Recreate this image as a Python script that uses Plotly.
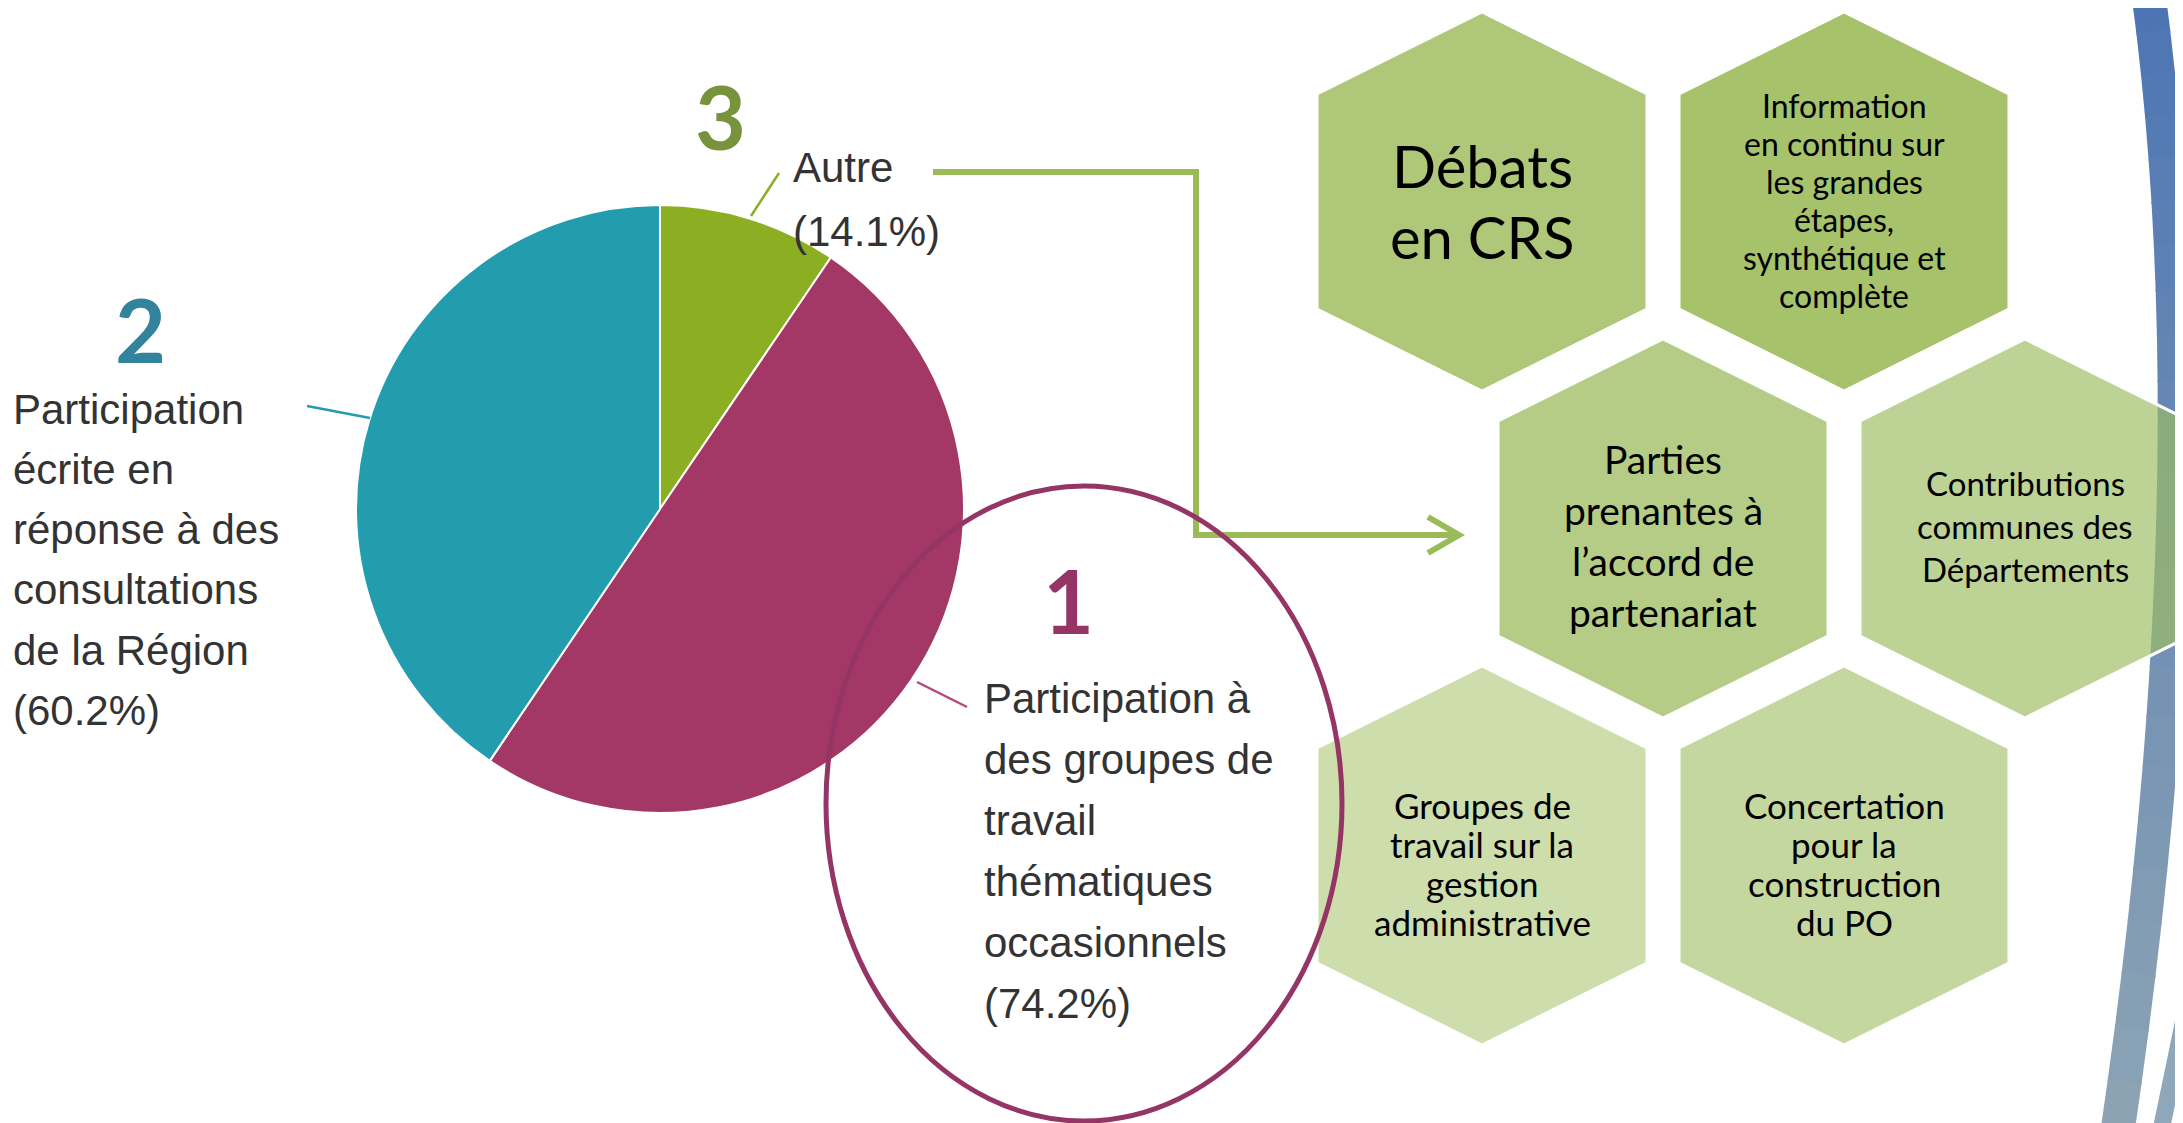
import plotly.graph_objects as go

# pie data
slice_names = [
    ["Autre"],
    ["Participation à", "des groupes de", "travail", "thématiques", "occasionnels"],
    ["Participation", "écrite en", "réponse à des", "consultations", "de la Région"],
]
slice_values = [14.1, 74.2, 60.2]

# hexagon texts
hex_texts = [
    ["Débats", "en CRS"],
    ["Information", "en continu sur", "les grandes", "étapes,", "synthétique et", "complète"],
    ["Parties", "prenantes à", "l’accord de", "partenariat"],
    ["Contributions", "communes des", "Départements"],
    ["Groupes de", "travail sur la", "gestion", "administrative"],
    ["Concertation", "pour la", "construction", "du PO"],
]

W, H = 2183, 1123
OFF = 8  # page margin of the html body, so data units equal screen pixels

slice_colors = ["#8CAE23", "#A33866", "#239DAD"]
leader_colors = ["#8CAE23", "#B5497A", "#239DAD"]
rank_colors = ["#77933C", "#953565", "#31849B"]
text_color = "#333333"

fig = go.Figure()

# invisible trace so the pixel-sized axes exist for shapes and annotations
fig.add_trace(go.Scatter(x=[OFF, W], y=[OFF, H], mode="markers", marker=dict(opacity=0),
                         hoverinfo="skip", showlegend=False))

# pie (centre given in screen pixels)
cx, cy, r = 660, 509, 304
fig.add_trace(go.Pie(
    labels=[" ".join(n) for n in slice_names],
    values=slice_values,
    sort=False,
    direction="clockwise",
    rotation=0,
    textinfo="none",
    hoverinfo="label+value",
    marker=dict(colors=slice_colors, line=dict(color="white", width=2)),
    domain=dict(x=[(cx - OFF - r) / W, (cx - OFF + r) / W],
                y=[1 - (cy - OFF + r) / H, 1 - (cy - OFF - r) / H]),
    showlegend=False,
))

shapes = []
annotations = []


def text_lines(lines, x, y_first, step, size, family, color, xanchor="left"):
    for j, line in enumerate(lines):
        annotations.append(dict(x=x, y=y_first + j * step, text=line, showarrow=False,
                                xanchor=xanchor, yanchor="middle",
                                font=dict(family=family, size=size, color=color)))


# blue decoration on the right edge
def bez(t, p0, c, p2):
    return ((1 - t) ** 2 * p0[0] + 2 * (1 - t) * t * c[0] + t ** 2 * p2[0],
            (1 - t) ** 2 * p0[1] + 2 * (1 - t) * t * c[1] + t ** 2 * p2[1])

top_rgb = (76, 117, 180)
bot_rgb = (142, 164, 181)
n_seg = 24
p0, pc, p2 = (2148, -10), (2214, 478), (2117, 1135)
for i in range(n_seg):
    a = bez(i / n_seg, p0, pc, p2)
    b = bez(min((i + 1.05) / n_seg, 1), p0, pc, p2)
    f = (i + 0.5) / n_seg
    col = "rgb(%d,%d,%d)" % tuple(int(top_rgb[k] + (bot_rgb[k] - top_rgb[k]) * f) for k in range(3))
    shapes.append(dict(type="line", x0=a[0], y0=a[1], x1=b[0], y1=b[1],
                       line=dict(color=col, width=34)))
shapes.append(dict(type="path", path="M 2198 950 Q 2180 1040 2160 1135",
                   line=dict(color="#8FA7BA", width=17)))

# hexagons
hex_centers = [(1482, 201.5), (1844, 201.5), (1663, 528.5), (2025, 528.5), (1482, 855.5), (1844, 855.5)]
hex_fills = ["#AEC779", "#A6C26B", "#B4CC85", "rgba(157,190,98,0.67)", "#CDDDAB", "#C4D79F"]
hex_font = [58, 32, 39, 33, 35, 35]
hex_step = [71, 38, 51, 43, 39, 39]
hex_dy = [-1, -1, 7, -3, 8, 8]
hw, hh, hs = 165, 189.5, 107.5
for (hx, hy), fill, lines, fs, st, dy in zip(hex_centers, hex_fills, hex_texts, hex_font, hex_step, hex_dy):
    path = "M {0} {1} L {2} {3} L {2} {4} L {0} {5} L {6} {4} L {6} {3} Z".format(
        hx, hy - hh, hx + hw, hy - hs, hy + hs, hy + hh, hx - hw)
    shapes.append(dict(type="path", path=path, fillcolor=fill, line=dict(color="white", width=3)))
    y_first = hy + dy - st * (len(lines) - 1) / 2
    text_lines(lines, hx, y_first, st, fs, "Lato", "black", xanchor="center")

# arrow from "Autre" to the hexagons
arrow_col = "#9BBB59"
shapes.append(dict(type="path", path="M 933 172 L 1196 172 L 1196 535 L 1456 535",
                   line=dict(color=arrow_col, width=6)))
shapes.append(dict(type="path", path="M 1428 517 L 1459 535 L 1428 553",
                   line=dict(color=arrow_col, width=6)))

# ellipse around label 1
shapes.append(dict(type="circle", x0=826, x1=1342, y0=486, y1=1121,
                   line=dict(color="#953565", width=5)))

# leader lines
leaders = [((751, 216), (779, 173)), ((917, 682), (967, 707)), ((370, 418), (307, 406))]
for (p, q), col in zip(leaders, leader_colors):
    shapes.append(dict(type="line", x0=p[0], y0=p[1], x1=q[0], y1=q[1], line=dict(color=col, width=2.5)))

# slice labels
label_pos = [(791, 167), (982, 698), (11, 409)]
label_step = [64, 61, 60.3]
for names, val, (lx, ly), st in zip(slice_names, slice_values, label_pos, label_step):
    text_lines(names + ["(%.1f%%)" % val], lx, ly, st, 42, "Liberation Sans", text_color)

# rank numbers
ranks = [sorted(slice_values, reverse=True).index(v) + 1 for v in slice_values]
rank_pos = [(720, 116), (1068, 600), (140, 329)]
for rk, (rx, ry), col in zip(ranks, rank_pos, rank_colors):
    annotations.append(dict(x=rx, y=ry, text=str(rk), showarrow=False, xanchor="center", yanchor="middle",
                            font=dict(family="Lato", size=88, color=col, weight="bold")))

fig.update_layout(
    width=W,
    height=H,
    margin=dict(l=0, r=0, t=0, b=0),
    paper_bgcolor="white",
    plot_bgcolor="white",
    xaxis=dict(range=[OFF, W + OFF], visible=False, fixedrange=True),
    yaxis=dict(range=[H + OFF, OFF], visible=False, fixedrange=True),
    shapes=shapes,
    annotations=annotations,
)

fig.write_html("out.html")
